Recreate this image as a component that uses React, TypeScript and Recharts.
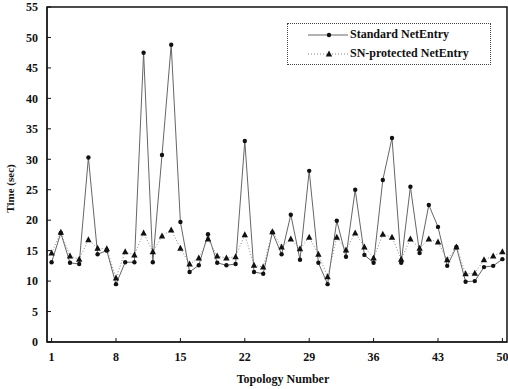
import React from 'react';
import { LineChart, Line, XAxis, YAxis, Legend, ReferenceArea } from 'recharts';

const topology = [
  1, 2, 3, 4, 5, 6, 7, 8, 9, 10, 11, 12, 13, 14, 15, 16, 17, 18, 19, 20, 21, 22, 23, 24, 25,
  26, 27, 28, 29, 30, 31, 32, 33, 34, 35, 36, 37, 38, 39, 40, 41, 42, 43, 44, 45, 46, 47, 48, 49, 50,
];

const standardTimes = [
  13.1, 17.9, 13.0, 12.8, 30.3, 14.4, 15.0, 9.5, 13.1, 13.1, 47.5, 13.1, 30.7, 48.8, 19.7, 11.5, 12.6,
  17.7, 13.0, 12.6, 12.8, 33.0, 11.5, 11.2, 18.0, 14.4, 20.9, 13.5, 28.1, 13.0, 9.5, 19.9, 14.0, 25.0,
  14.3, 13.0, 26.6, 33.5, 13.0, 25.5, 14.6, 22.5, 18.9, 12.5, 15.6, 9.9, 10.0, 12.3, 12.5, 13.6,
];

const protectedTimes = [
  14.6, 18.0, 14.1, 13.6, 16.8, 15.4, 15.3, 10.5, 14.8, 14.3, 17.9, 14.8, 17.4, 18.4, 15.4, 12.8, 13.8,
  16.9, 14.1, 13.8, 14.0, 17.6, 12.6, 12.3, 18.1, 15.6, 16.9, 15.3, 17.2, 14.4, 10.7, 17.2, 15.1, 17.9,
  15.6, 13.8, 17.7, 17.2, 13.6, 16.9, 15.4, 16.9, 16.4, 13.5, 15.6, 11.2, 11.3, 13.5, 14.1, 14.8,
];

const xTicks = [1, 8, 15, 22, 29, 36, 43, 50];
const yTicks = [0, 5, 10, 15, 20, 25, 30, 35, 40, 45, 50, 55];

const data = topology.map((t, i) => ({
  topology: t,
  standard: standardTimes[i],
  snProtected: protectedTimes[i],
}));

const font = '"Liberation Serif", "Times New Roman", serif';

const RoundDot = (props: any) => {
  const { cx, cy } = props;
  if (cx == null || cy == null) return null;
  return <circle cx={cx} cy={cy} r={2.2} fill="#111" stroke="none" />;
};

const TriangleDot = (props: any) => {
  const { cx, cy } = props;
  if (cx == null || cy == null) return null;
  return <path d={`M${cx},${cy - 3.5}L${cx + 3.2},${cy + 2.5}L${cx - 3.2},${cy + 2.5}Z`} fill="#111" />;
};

const LegendBox = () => (
  <div
    style={{
      border: '1px dotted #444',
      width: 204,
      height: 42,
      fontFamily: font,
      fontSize: 12,
      fontWeight: 'bold',
      color: '#111',
      boxSizing: 'border-box',
    }}
  >
    <div style={{ display: 'flex', alignItems: 'center', height: 19, marginTop: 1 }}>
      <svg width={62} height={10}>
        <line x1={20} y1={5} x2={60} y2={5} stroke="#666" strokeWidth={1} />
        <circle cx={41} cy={5} r={2.2} fill="#111" />
      </svg>
      <span>Standard NetEntry</span>
    </div>
    <div style={{ display: 'flex', alignItems: 'center', height: 19 }}>
      <svg width={62} height={10}>
        <line x1={20} y1={5} x2={60} y2={5} stroke="#888" strokeWidth={1} strokeDasharray="1 2" />
        <path d="M41,1.5L44.2,7.5L37.8,7.5Z" fill="#111" />
      </svg>
      <span>SN-protected NetEntry</span>
    </div>
  </div>
);

export default function App() {
  return (
    <div style={{ position: 'absolute', left: 0, top: 0, width: 508, height: 389, background: '#fff' }}>
      <LineChart width={508} height={389} data={data} margin={{ top: 7, right: 1, left: 0, bottom: 0 }}>
        <XAxis
          dataKey="topology"
          type="number"
          domain={[0.5, 50.5]}
          ticks={xTicks}
          interval={0}
          height={47}
          stroke="#111"
          tickSize={-4}
          tickMargin={14}
          tick={{ fill: '#111', fontFamily: font, fontSize: 12, fontWeight: 'bold' }}
          label={{
            value: 'Topology Number',
            position: 'insideBottom',
            offset: 6,
            dx: 6,
            style: { fill: '#111', fontFamily: font, fontSize: 12, fontWeight: 'bold' },
          }}
        />
        <YAxis
          type="number"
          domain={[0, 55]}
          ticks={yTicks}
          interval={0}
          width={47}
          stroke="#111"
          tickSize={-4}
          tickMargin={13}
          tick={{ fill: '#111', fontFamily: font, fontSize: 12, fontWeight: 'bold' }}
          label={{
            value: 'Time (sec)',
            angle: -90,
            position: 'insideLeft',
            offset: 10,
            dy: 14,
            style: { textAnchor: 'middle', fill: '#111', fontFamily: font, fontSize: 11, fontWeight: 'bold' },
          }}
        />
        <ReferenceArea x1={0.5} x2={50.5} y1={0} y2={55} fill="none" stroke="#111" strokeWidth={1.5} />
        <Legend
          verticalAlign="middle"
          align="center"
          layout="horizontal"
          content={<LegendBox />}
          wrapperStyle={{ position: 'absolute', left: 287, top: 23, width: 204 }}
        />
        <Line
          type="linear"
          dataKey="standard"
          name="Standard NetEntry"
          stroke="#666"
          strokeWidth={1}
          dot={<RoundDot />}
          activeDot={false}
          isAnimationActive={false}
        />
        <Line
          type="linear"
          dataKey="snProtected"
          name="SN-protected NetEntry"
          stroke="#888"
          strokeWidth={1}
          strokeDasharray="1 2"
          dot={<TriangleDot />}
          activeDot={false}
          isAnimationActive={false}
        />
      </LineChart>
    </div>
  );
}
